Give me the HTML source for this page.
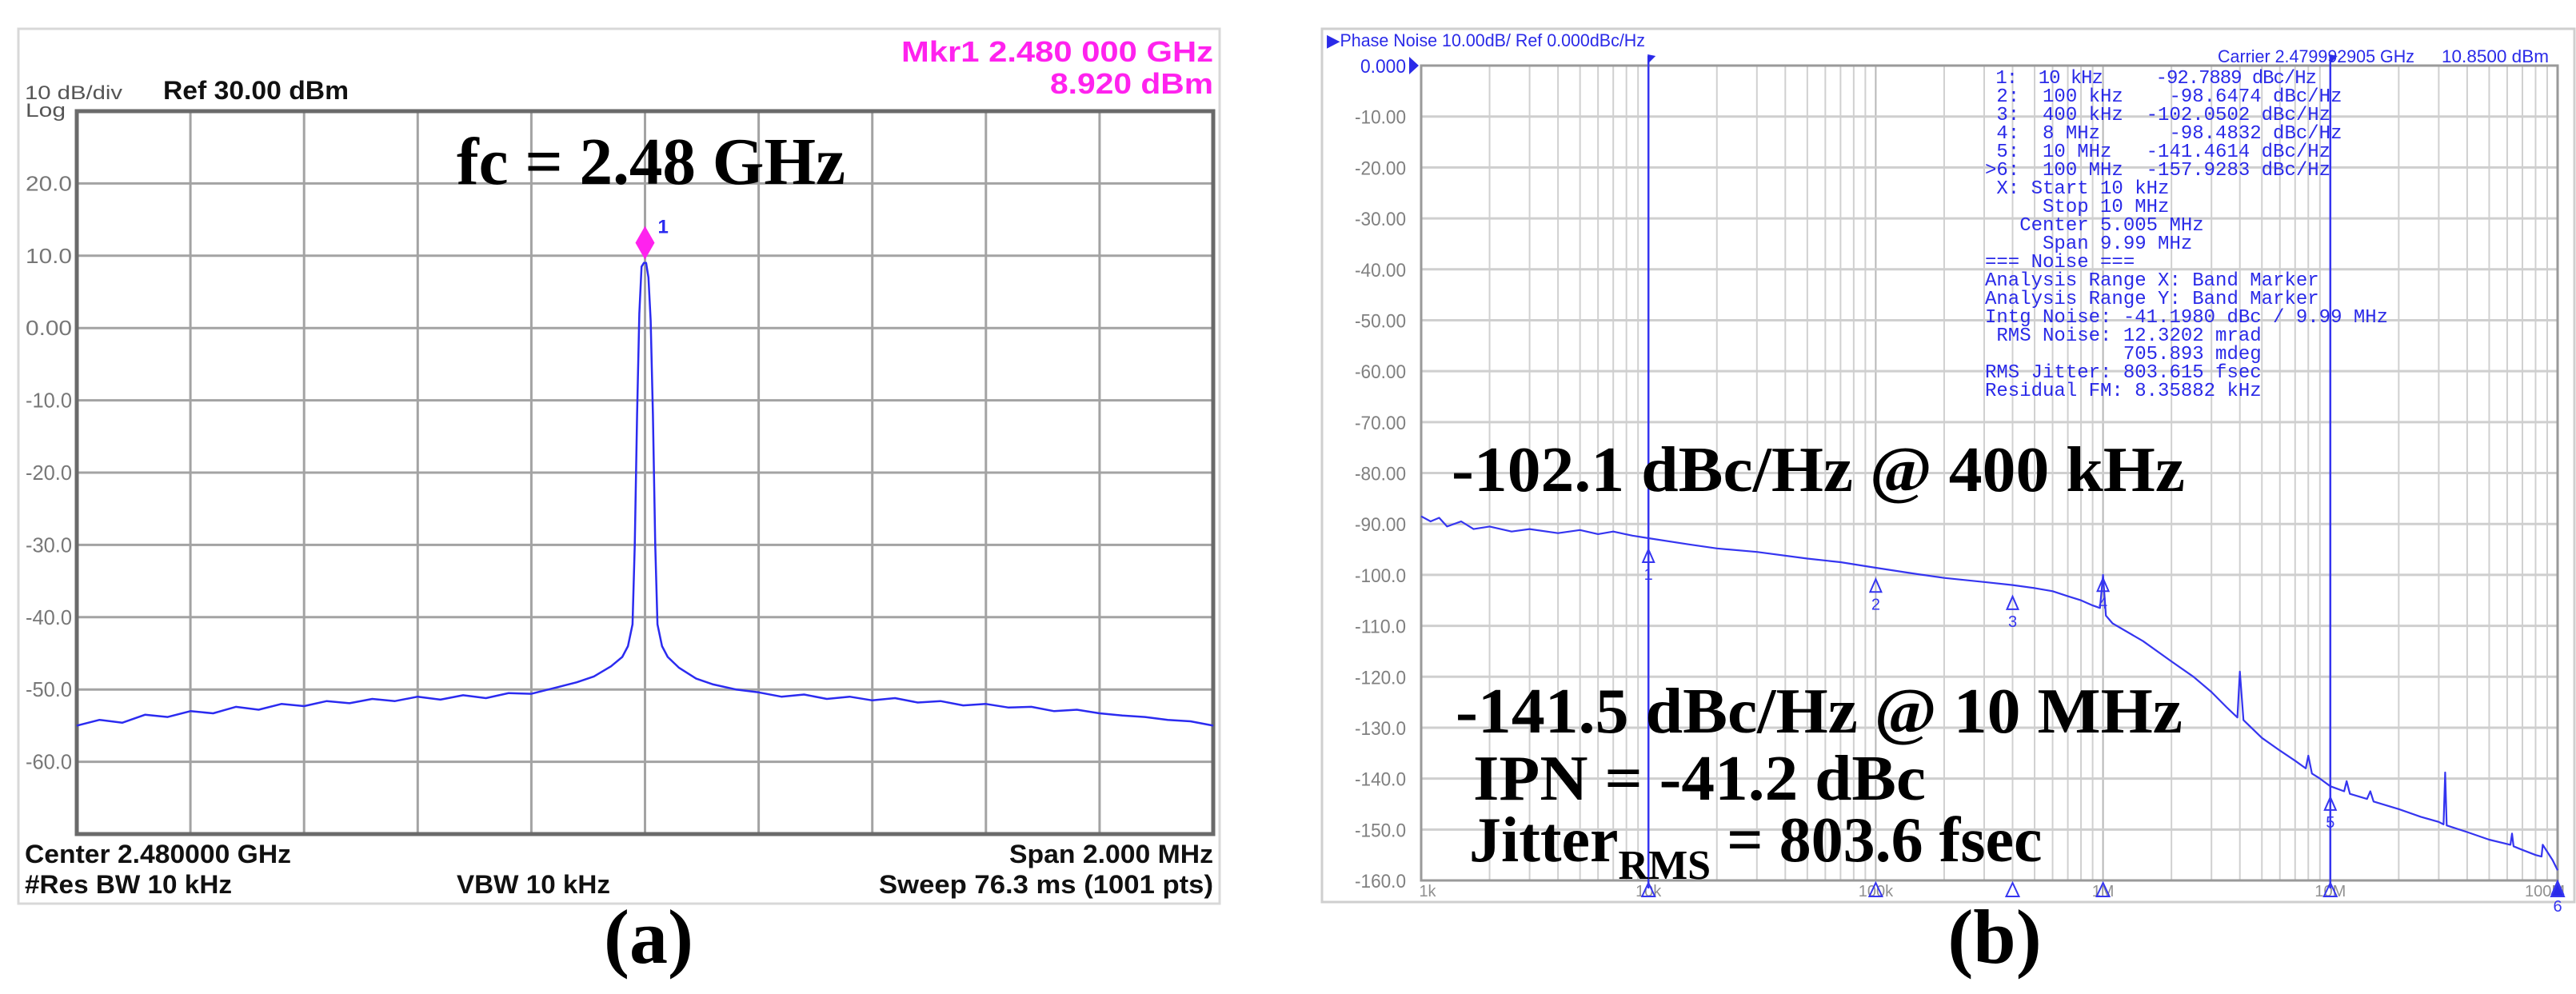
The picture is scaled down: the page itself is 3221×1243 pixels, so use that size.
<!DOCTYPE html>
<html><head><meta charset="utf-8"><style>
html,body{margin:0;padding:0;background:#fff;}
svg{display:block;}
.mono{font-family:"Liberation Mono",monospace;}
.sans{font-family:"Liberation Sans",sans-serif;}
.serif{font-family:"Liberation Serif",serif;font-weight:bold;}
</style></head><body>
<svg id="fig" width="3221" height="1243" viewBox="0 0 3221 1243" xmlns="http://www.w3.org/2000/svg">
<rect x="0" y="0" width="3221" height="1243" fill="#fff"/>
<!-- Panel A -->
<g id="panelA">
<rect x="23" y="36" width="1502" height="1094" fill="#fff" stroke="#d8d8d8" stroke-width="3"/>
<g id="gridA"></g>
<rect x="96" y="139" width="1421" height="904" fill="none" stroke="#6a6a6a" stroke-width="5"/>
<g id="ticksA"></g>
<text class="sans" x="31" y="124" font-size="24" fill="#555" textLength="122" lengthAdjust="spacingAndGlyphs">10 dB/div</text>
<text class="sans" x="32" y="146" font-size="24" fill="#555" textLength="50" lengthAdjust="spacingAndGlyphs">Log</text>
<text class="sans" x="204" y="124" font-size="32" font-weight="bold" fill="#111" textLength="232" lengthAdjust="spacingAndGlyphs">Ref 30.00 dBm</text>
<text class="sans" x="1127" y="77" font-size="36" font-weight="bold" fill="#ff22ee" textLength="390" lengthAdjust="spacingAndGlyphs">Mkr1 2.480 000 GHz</text>
<text class="sans" x="1313" y="117" font-size="36" font-weight="bold" fill="#ff22ee" textLength="204" lengthAdjust="spacingAndGlyphs">8.920 dBm</text>
<text class="serif" x="571" y="230" font-size="84" fill="#000" textLength="486" lengthAdjust="spacingAndGlyphs">fc = 2.48 GHz</text>
<g id="traceA"></g>
<text class="sans" x="31" y="1079" font-size="32" font-weight="bold" fill="#111" textLength="333" lengthAdjust="spacingAndGlyphs">Center 2.480000 GHz</text>
<text class="sans" x="1262" y="1079" font-size="32" font-weight="bold" fill="#111" textLength="255" lengthAdjust="spacingAndGlyphs">Span 2.000 MHz</text>
<text class="sans" x="31" y="1117" font-size="32" font-weight="bold" fill="#111" textLength="259" lengthAdjust="spacingAndGlyphs">#Res BW 10 kHz</text>
<text class="sans" x="571" y="1117" font-size="32" font-weight="bold" fill="#111" textLength="192" lengthAdjust="spacingAndGlyphs">VBW 10 kHz</text>
<text class="sans" x="1099" y="1117" font-size="32" font-weight="bold" fill="#111" textLength="418" lengthAdjust="spacingAndGlyphs">Sweep  76.3 ms (1001 pts)</text>
</g>
<text class="serif" x="811" y="1204" font-size="96" text-anchor="middle" fill="#000">(a)</text>

<!-- Panel B -->
<g id="panelB">
<rect x="1653" y="36" width="1566" height="1092" fill="#fff" stroke="#cfcfcf" stroke-width="3"/>
<g id="gridB"></g>
<rect x="1777" y="82" width="1421" height="1019" fill="none" stroke="#9a9a9a" stroke-width="3"/>
<g id="ticksB"></g>
<text class="sans" x="1659" y="58" font-size="22" fill="#2a2ae8" textLength="398" lengthAdjust="spacingAndGlyphs">▶Phase Noise 10.00dB/ Ref 0.000dBc/Hz</text>
<text class="sans" x="2773" y="78" font-size="22" fill="#2a2ae8" textLength="246" lengthAdjust="spacingAndGlyphs">Carrier 2.479992905 GHz</text>
<text class="sans" x="3053" y="78" font-size="22" fill="#2a2ae8" textLength="134" lengthAdjust="spacingAndGlyphs">10.8500 dBm</text>
<g id="markerLines"></g>
<g id="traceB"></g>
<text class="mono" font-size="24" fill="#2a2ae8" xml:space="preserve">
<tspan x="2482" y="104" textLength="415"> 1:  10 kHz     -92.7889 dBc/Hz</tspan>
<tspan x="2482" y="127"> 2:  100 kHz    -98.6474 dBc/Hz</tspan>
<tspan x="2482" y="150"> 3:  400 kHz  -102.0502 dBc/Hz</tspan>
<tspan x="2482" y="173"> 4:  8 MHz      -98.4832 dBc/Hz</tspan>
<tspan x="2482" y="196"> 5:  10 MHz   -141.4614 dBc/Hz</tspan>
<tspan x="2482" y="219">&gt;6:  100 MHz  -157.9283 dBc/Hz</tspan>
<tspan x="2482" y="242"> X: Start 10 kHz</tspan>
<tspan x="2482" y="265">     Stop 10 MHz</tspan>
<tspan x="2482" y="288">   Center 5.005 MHz</tspan>
<tspan x="2482" y="311">     Span 9.99 MHz</tspan>
<tspan x="2482" y="334">=== Noise ===</tspan>
<tspan x="2482" y="357">Analysis Range X: Band Marker</tspan>
<tspan x="2482" y="380">Analysis Range Y: Band Marker</tspan>
<tspan x="2482" y="403">Intg Noise: -41.1980 dBc / 9.99 MHz</tspan>
<tspan x="2482" y="426"> RMS Noise: 12.3202 mrad</tspan>
<tspan x="2482" y="449">            705.893 mdeg</tspan>
<tspan x="2482" y="472">RMS Jitter: 803.615 fsec</tspan>
<tspan x="2482" y="495">Residual FM: 8.35882 kHz</tspan>
</text>
<text class="serif" x="1815" y="614" font-size="80" fill="#000" textLength="917" lengthAdjust="spacingAndGlyphs">-102.1 dBc/Hz @ 400 kHz</text>
<text class="serif" x="1820" y="916" font-size="80" fill="#000" textLength="909" lengthAdjust="spacingAndGlyphs">-141.5 dBc/Hz @ 10 MHz</text>
<text class="serif" x="1842" y="1000" font-size="80" fill="#000" textLength="566" lengthAdjust="spacingAndGlyphs">IPN = -41.2 dBc</text>
<text class="serif" x="1837" y="1077" font-size="80" fill="#000">Jitter<tspan font-size="52" dy="22">RMS</tspan><tspan dy="-22"> = 803.6 fsec</tspan></text>
</g>
<text class="serif" x="2494" y="1204" font-size="96" text-anchor="middle" fill="#000">(b)</text>
</svg>
<script>
// ---------- Panel A data ----------
const specOffsetMHz = [-1,-0.96,-0.92,-0.88,-0.84,-0.8,-0.76,-0.72,-0.68,-0.64,-0.6,-0.56,-0.52,-0.48,-0.44,-0.4,-0.36,-0.32,-0.28,-0.24,-0.2,-0.16,-0.12,-0.09,-0.06,-0.04,-0.03,-0.022,-0.018,-0.014,-0.01,-0.006,-0.002,0.002,0.006,0.01,0.014,0.018,0.022,0.03,0.04,0.06,0.09,0.12,0.16,0.2,0.24,0.28,0.32,0.36,0.4,0.44,0.48,0.52,0.56,0.6,0.64,0.68,0.72,0.76,0.8,0.84,0.88,0.92,0.96,1];
const specLevelDbm = [-55,-54.2,-54.6,-53.5,-53.8,-53,-53.3,-52.4,-52.8,-52,-52.3,-51.6,-51.9,-51.3,-51.6,-51,-51.4,-50.8,-51.2,-50.5,-50.6,-49.8,-49,-48.2,-46.8,-45.5,-44,-41,-30,-12,2,8.5,9,9,7,1,-12,-30,-41,-44,-45.5,-47,-48.5,-49.3,-50,-50.4,-51,-50.7,-51.3,-51,-51.5,-51.2,-51.8,-51.6,-52.2,-52,-52.5,-52.4,-53,-52.8,-53.3,-53.6,-53.8,-54.2,-54.4,-55];
const specYTicks = [20,10,0,-10,-20,-30,-40,-50,-60];
const specYLabels = ["20.0","10.0","0.00","-10.0","-20.0","-30.0","-40.0","-50.0","-60.0"];
const specMarkerOffset = [0];
const specMarkerLevel = [8.92];

// ---------- Panel B data ----------
const pnFreqHz = [1e3,1.1e3,1.2e3,1.3e3,1.5e3,1.7e3,2e3,2.5e3,3e3,4e3,5e3,6e3,7e3,8.5e3,1e4,1.5e4,2e4,3e4,5e4,7e4,1e5,1.5e5,2e5,3e5,4e5,5e5,6e5,7e5,8e5,9e5,9.7e5,1e6,1.03e6,1.1e6,1.5e6,2e6,2.5e6,3e6,3.5e6,3.9e6,4e6,4.15e6,5e6,6e6,7e6,7.8e6,8e6,8.3e6,9e6,1e7,1.15e7,1.18e7,1.22e7,1.45e7,1.5e7,1.55e7,2e7,2.5e7,3e7,3.15e7,3.2e7,3.25e7,4e7,5e7,6.2e7,6.3e7,6.4e7,7e7,8e7,8.5e7,8.6e7,9.5e7,1e8];
const pnLevelDbc = [-88.5,-89.5,-88.8,-90.5,-89.5,-91,-90.5,-91.5,-91,-91.8,-91.2,-92,-91.5,-92.3,-92.8,-94,-94.8,-95.5,-96.8,-97.5,-98.6,-99.8,-100.6,-101.4,-102,-102.6,-103.2,-104.2,-105,-106,-106.5,-100,-108,-109.5,-113,-117,-120,-123,-126,-128,-119,-128.5,-132,-134.5,-136.5,-138,-135.5,-139,-140,-141.5,-142.5,-140.5,-143,-144,-142.5,-144.5,-146,-147.5,-148.5,-149,-138.8,-149.2,-150.5,-152,-153,-150.8,-153.3,-154,-155,-155.3,-153,-156,-158];
const pnYTicks = [0,-10,-20,-30,-40,-50,-60,-70,-80,-90,-100,-110,-120,-130,-140,-150,-160];
const pnYLabels = ["0.000","-10.00","-20.00","-30.00","-40.00","-50.00","-60.00","-70.00","-80.00","-90.00","-100.0","-110.0","-120.0","-130.0","-140.0","-150.0","-160.0"];
const pnXDecades = [1e3,1e4,1e5,1e6,1e7,1e8];
const pnXLabels = ["1k","10k","100k","1M","10M","100M"];
const pnMarkerFreq = [1e4,1e5,4e5,1e6,1e7,1e8];
const pnMarkerLevel = [-92.79,-98.65,-102.05,-98.48,-141.46,-157.93];
const pnMarkerNames = ["1","2","3","4","5","6"];
const pnBandFreq = [1e4,1e7];

const NS = "http://www.w3.org/2000/svg";
function mk(tag, parent) { const e = document.createElementNS(NS, tag); parent.appendChild(e); return e; }
function setA(e, o) { for (const k in o) e.setAttribute(k, o[k]); }

// axes A
const AX0 = 96, AX1 = 1517, AY0 = 139, AY1 = 1043;
const xA = f => AX0 + (f + 1) / 2 * (AX1 - AX0);
const yA = d => AY0 + (30 - d) / 100 * (AY1 - AY0);
// axes B
const BX0 = 1777, BX1 = 3198, BY0 = 82, BY1 = 1101;
const xB = f => BX0 + Math.log10(f / 1e3) / 5 * (BX1 - BX0);
const yB = d => BY0 + (-d) / 160 * (BY1 - BY0);

// grid A
const gA = document.getElementById('gridA');
for (let i = 1; i < 10; i++) {
  const v = mk('line', gA);
  setA(v, {x1: xA(-1 + i * 0.2), x2: xA(-1 + i * 0.2), y1: AY0, y2: AY1, stroke: '#a3a3a3', 'stroke-width': 3});
  
  
  const h = mk('line', gA);
  setA(h, {x1: AX0, x2: AX1, y1: yA(30 - i * 10), y2: yA(30 - i * 10), stroke: '#a3a3a3', 'stroke-width': 3});
  
  
}
const tA = document.getElementById('ticksA');
specYTicks.forEach((v, i) => {
  const t = mk('text', tA);
  setA(t, {x: 90, y: yA(v) + 9, 'font-size': 26, fill: '#777', 'text-anchor': 'end', 'font-family': 'Liberation Sans, sans-serif', textLength: 58, lengthAdjust: 'spacingAndGlyphs'});
  t.textContent = specYLabels[i];
  
  
});
// trace A
const trA = document.getElementById('traceA');
const pA = mk('polyline', trA);
setA(pA, {points: specOffsetMHz.map((f, i) => xA(f).toFixed(1) + ',' + yA(specLevelDbm[i]).toFixed(1)).join(' '), fill: 'none', stroke: '#2b2bf0', 'stroke-width': 2.5, 'stroke-linejoin': 'round'});


specMarkerOffset.forEach((f, i) => {
  const cx = xA(f), cy = yA(specMarkerLevel[i]) - 26;
  const d = mk('polygon', trA);
  setA(d, {points: `${cx},${cy - 21} ${cx + 12},${cy} ${cx},${cy + 21} ${cx - 12},${cy}`, fill: '#ff22ee'});
  
  
  const t = mk('text', trA);
  setA(t, {x: cx + 16, y: cy - 12, 'font-size': 24, fill: '#2b2bf0', 'font-family': 'Liberation Sans, sans-serif', 'font-weight': 'bold'});
  t.textContent = '1';
  
  
});

// grid B
const gB = document.getElementById('gridB');
for (let dec = 0; dec < 5; dec++) {
  for (let m = 1; m <= 9; m++) {
    const f = pnXDecades[dec] * m;
    if (dec === 0 && m === 1) continue;
    const v = mk('line', gB);
    setA(v, {x1: xB(f), x2: xB(f), y1: BY0, y2: BY1, stroke: m === 1 ? '#b8b8b8' : '#d0d0d0', 'stroke-width': 2});
    
    
  }
}
pnYTicks.forEach(d => {
  const h = mk('line', gB);
  setA(h, {x1: BX0, x2: BX1, y1: yB(d), y2: yB(d), stroke: '#cfcfcf', 'stroke-width': 3});
  
  
});
const tB = document.getElementById('ticksB');
pnYTicks.forEach((d, i) => {
  const t = mk('text', tB);
  setA(t, {x: 1758, y: yB(d) + 9, 'font-size': 24, fill: i === 0 ? '#2a2ae8' : '#808080', 'text-anchor': 'end', 'font-family': 'Liberation Sans, sans-serif', textLength: i === 0 ? 57 : 64, lengthAdjust: 'spacingAndGlyphs'});
  t.textContent = pnYLabels[i];
  
  
});
const ar = mk('polygon', tB);
setA(ar, {points: `1762,${BY0 - 11} 1774,${BY0} 1762,${BY0 + 11}`, fill: '#2a2ae8'});


pnXDecades.forEach((f, i) => {
  const t = mk('text', tB);
  setA(t, {x: xB(f) + (i === 5 ? -16 : (i === 0 ? 8 : 0)), y: 1121, 'font-size': 20, fill: '#909090', 'text-anchor': 'middle', 'font-family': 'Liberation Sans, sans-serif'});
  t.textContent = pnXLabels[i];
  
  
});
// band markers
const mL = document.getElementById('markerLines');
pnBandFreq.forEach(f => {
  const l = mk('line', mL);
  setA(l, {x1: xB(f), x2: xB(f), y1: BY0 - 12, y2: BY1 + 10, stroke: '#3535f0', 'stroke-width': 2.5});
  
  
  const fl = mk('polygon', mL);
  setA(fl, {points: `${xB(f) - 1},${BY0 - 14} ${xB(f) + 9},${BY0 - 12} ${xB(f) - 1},${BY0 - 2}`, fill: '#2a2ae8'});
  
  
});
// trace B
const trB = document.getElementById('traceB');
const pB = mk('polyline', trB);
setA(pB, {points: pnFreqHz.map((f, i) => xB(f).toFixed(1) + ',' + yB(pnLevelDbc[i]).toFixed(1)).join(' '), fill: 'none', stroke: '#3535f0', 'stroke-width': 2.2, 'stroke-linejoin': 'round'});


// markers on trace
pnMarkerFreq.forEach((f, i) => {
  const x = xB(f), y = yB(pnMarkerLevel[i]) + 14;
  const tri = mk('polygon', trB);
  setA(tri, {points: `${x},${y} ${x - 7},${y + 16} ${x + 7},${y + 16}`, fill: 'none', stroke: '#3535f0', 'stroke-width': 2});
  
  
  const t = mk('text', trB);
  setA(t, {x: x, y: y + 38, 'font-size': 20, fill: '#3535f0', 'text-anchor': 'middle', 'font-family': 'Liberation Sans, sans-serif'});
  t.textContent = pnMarkerNames[i];
  
  
  const bt = mk('polygon', trB);
  setA(bt, {points: `${x},${BY1 + 3} ${x - 8},${BY1 + 20} ${x + 8},${BY1 + 20}`, fill: i === 5 ? '#2a2ae8' : 'none', stroke: '#3535f0', 'stroke-width': 2});
  
  
});
</script>
</body></html>
